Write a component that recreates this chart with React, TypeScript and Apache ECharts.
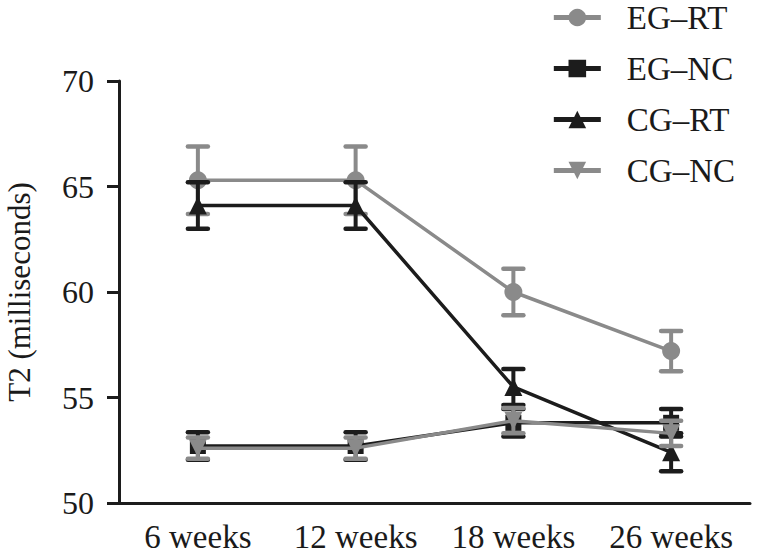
import React, { useEffect, useRef } from "react";
import * as echarts from "echarts";

const categories = ["6 weeks", "12 weeks", "18 weeks", "26 weeks"];
const egRT = [65.3, 65.3, 60.0, 57.2];
const egRTErr = [1.6, 1.6, 1.1, 0.95];
const egNC = [52.7, 52.7, 53.8, 53.8];
const egNCErr = [0.65, 0.65, 0.65, 0.65];
const cgRT = [64.1, 64.1, 55.5, 52.4];
const cgRTErr = [1.1, 1.1, 0.85, 0.9];
const cgNC = [52.6, 52.6, 53.9, 53.3];
const cgNCErr = [0.5, 0.5, 0.6, 0.6];
const yTicks = [50, 55, 60, 65, 70];

const GRAY = "#8a8a8a";
const BLACK = "#1c1c1c";
const FONT = "Times New Roman, Liberation Serif, DejaVu Serif, serif";

const groups = [
  { name: "EG\u2013RT", vals: egRT, err: egRTErr, color: GRAY, symbol: "circle", size: 18, rot: 0 },
  { name: "EG\u2013NC", vals: egNC, err: egNCErr, color: BLACK, symbol: "rect", size: 16, rot: 0 },
  { name: "CG\u2013RT", vals: cgRT, err: cgRTErr, color: BLACK, symbol: "triangle", size: 18, rot: 0 },
  { name: "CG\u2013NC", vals: cgNC, err: cgNCErr, color: GRAY, symbol: "triangle", size: 18, rot: 180 },
];

export default function App() {
  const ref = useRef<HTMLDivElement>(null);
  useEffect(() => {
    if (!ref.current) return;
    const chart = echarts.init(ref.current, null, { renderer: "svg" });
    const series: any[] = [];
    groups.forEach((g, gi) => {
      series.push({
        type: "custom",
        name: g.name + "-err",
        z: 2 + gi * 2,
        data: g.vals.map((v, i) => [i, v - g.err[i], v + g.err[i]]),
        encode: { x: 0, y: [1, 2] },
        renderItem: (params: any, api: any) => {
          const x = api.value(0);
          const lo = api.coord([x, api.value(1)]);
          const hi = api.coord([x, api.value(2)]);
          const hw = 10;
          const st = { stroke: g.color, lineWidth: 4.5, lineCap: "round" };
          return {
            type: "group",
            children: [
              { type: "line", shape: { x1: lo[0], y1: lo[1], x2: hi[0], y2: hi[1] }, style: { stroke: g.color, lineWidth: 4 } },
              { type: "line", shape: { x1: hi[0] - hw, y1: hi[1], x2: hi[0] + hw, y2: hi[1] }, style: st },
              { type: "line", shape: { x1: lo[0] - hw, y1: lo[1], x2: lo[0] + hw, y2: lo[1] }, style: st },
            ],
          };
        },
        silent: true,
      });
      series.push({
        type: "line",
        name: g.name,
        z: 3 + gi * 2,
        data: g.vals,
        symbol: g.symbol,
        symbolSize: g.size,
        symbolRotate: g.rot,
        lineStyle: { color: g.color, width: 3.5 },
        itemStyle: { color: g.color },
      });
    });
    chart.setOption({
      animation: false,
      textStyle: { fontFamily: FONT },
      grid: { left: 119, right: 10, top: 81, bottom: 55, containLabel: false, outerBoundsMode: "none" },
      legend: {
        orient: "vertical",
        right: 20,
        top: -4,
        itemWidth: 47,
        itemHeight: 22,
        itemGap: 18,
        lineStyle: { width: 5 },
        data: groups.map((g) => g.name),
        textStyle: { fontFamily: FONT, fontSize: 33, color: "#1a1a1a", padding: [0, 0, 0, 21] },
      },
      xAxis: {
        type: "category",
        data: categories,
        boundaryGap: true,
        axisLine: { lineStyle: { color: BLACK, width: 3 } },
        axisTick: { alignWithLabel: true, interval: 0, length: 12, lineStyle: { width: 3, color: BLACK } },
        axisLabel: { fontFamily: FONT, fontSize: 33, color: "#1a1a1a", margin: 17, interval: 0, hideOverlap: false },
      },
      yAxis: {
        type: "value",
        min: yTicks[0],
        max: yTicks[yTicks.length - 1],
        interval: 5,
        name: "T2 (milliseconds)",
        nameLocation: "middle",
        nameGap: 84,
        nameTextStyle: { fontFamily: FONT, fontSize: 31, color: "#1a1a1a" },
        splitLine: { show: false },
        axisLine: { show: true, lineStyle: { color: BLACK, width: 3 } },
        axisTick: { show: true, length: 12, lineStyle: { width: 3, color: BLACK } },
        axisLabel: { fontFamily: FONT, fontSize: 32, color: "#1a1a1a", margin: 25 },
      },
      series,
    });
    return () => chart.dispose();
  }, []);
  return <div ref={ref} style={{ width: 760, height: 558, position: "absolute", left: 0, top: 0 }} />;
}
